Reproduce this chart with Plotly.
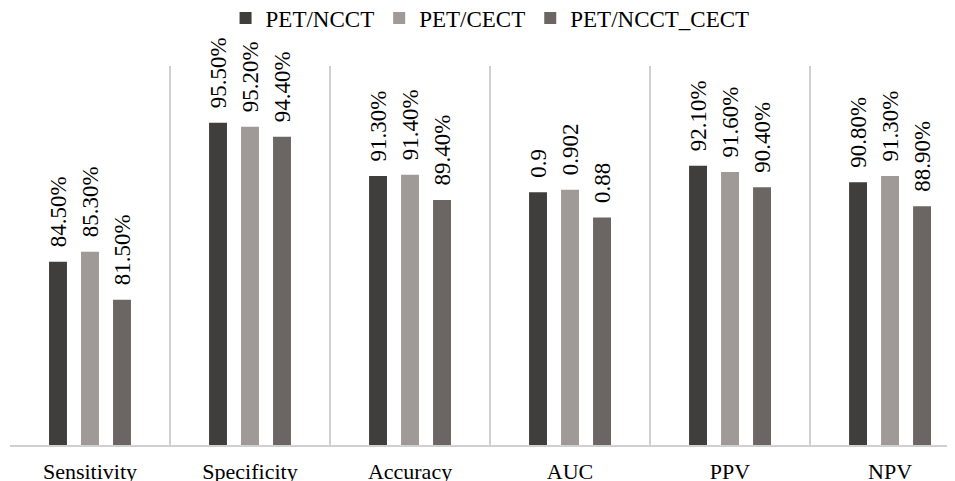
import plotly.graph_objects as go

categories = ["Sensitivity", "Specificity", "Accuracy", "AUC", "PPV", "NPV"]
series_names = ["PET/NCCT", "PET/CECT", "PET/NCCT_CECT"]
pet_ncct = [84.5, 95.5, 91.3, 90.0, 92.1, 90.8]
pet_cect = [85.3, 95.2, 91.4, 90.2, 91.6, 91.3]
pet_ncct_cect = [81.5, 94.4, 89.4, 88.0, 90.4, 88.9]
labels_ncct = ["84.50%", "95.50%", "91.30%", "0.9", "92.10%", "90.80%"]
labels_cect = ["85.30%", "95.20%", "91.40%", "0.902", "91.60%", "91.30%"]
labels_ncct_cect = ["81.50%", "94.40%", "89.40%", "0.88", "90.40%", "88.90%"]
colors = ["#403e3c", "#9f9a97", "#6b6663"]

FONT = "Liberation Serif"
pad = "\u00a0\u00a0"

fig = go.Figure()
for name, vals, labs, col in zip(series_names,
                                 [pet_ncct, pet_cect, pet_ncct_cect],
                                 [labels_ncct, labels_cect, labels_ncct_cect],
                                 colors):
    fig.add_trace(go.Bar(
        name=name, x=categories, y=vals,
        text=[pad + t for t in labs],
        textposition="outside", textangle=-90, constraintext="none",
        cliponaxis=False,
        textfont=dict(family=FONT, size=23, color="#000000"),
        marker=dict(color=col, line=dict(width=0)),
    ))

fig.update_layout(
    width=947, height=473,
    margin=dict(l=2, r=0, t=58, b=36, autoexpand=False),
    paper_bgcolor="white", plot_bgcolor="white",
    barmode="group", bargap=0.4, bargroupgap=0.44,
    font=dict(family=FONT, size=22, color="#000000"),
    uniformtext=dict(minsize=23, mode="show"),
    showlegend=True,
    legend=dict(orientation="h", x=0.508, xanchor="center", yref="container",
                y=0.979, yanchor="middle",
                font=dict(family=FONT, size=23), itemwidth=30,
                bgcolor="rgba(0,0,0,0)"),
    xaxis=dict(range=[-0.5, 5.406], tickson="boundaries", showgrid=True,
               gridcolor="#d0d0d0", gridwidth=1.5, showline=True, linecolor="#d0d0d0",
               linewidth=1.5, ticks="", automargin=False, ticklabelstandoff=6,
               tickfont=dict(family=FONT, size=22)),
    yaxis=dict(range=[70, 100], visible=False, showgrid=False),
)

fig.write_html("out.html")
